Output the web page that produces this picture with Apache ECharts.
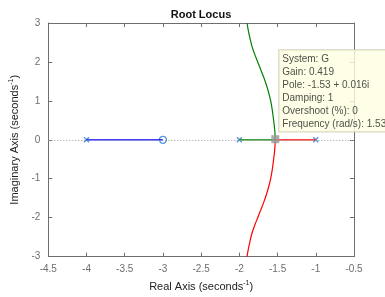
<!DOCTYPE html>
<html><head><meta charset="utf-8">
<script src="https://cdn.jsdelivr.net/npm/echarts@6/dist/echarts.min.js"></script>
<style>html,body{margin:0;padding:0;background:#fff}#c{width:385px;height:297px}</style>
</head><body><div id="c"></div>
<script>
// ---- data ----
const poles = [[-4, 0], [-2, 0], [-1, 0]];
const zeros = [[-3, 0]];
const blueBranch = [[-4, 0], [-3, 0]];
const greenReal = [[-2, 0], [-1.53, 0]];
const greenCurve = [[-1.53, 0], [-1.535, 0.2], [-1.545, 0.4], [-1.558, 0.6], [-1.572, 0.8], [-1.59, 1.0], [-1.615, 1.2], [-1.645, 1.4], [-1.68, 1.6], [-1.72, 1.8], [-1.76, 2.0], [-1.80, 2.2], [-1.835, 2.4], [-1.86, 2.6], [-1.882, 2.8], [-1.90, 3.0]];
const redReal = [[-1, 0], [-1.53, 0]];
const redCurve = [[-1.53, 0], [-1.535, -0.2], [-1.545, -0.4], [-1.558, -0.6], [-1.572, -0.8], [-1.59, -1.0], [-1.615, -1.2], [-1.645, -1.4], [-1.68, -1.6], [-1.72, -1.8], [-1.76, -2.0], [-1.80, -2.2], [-1.835, -2.4], [-1.86, -2.6], [-1.882, -2.8], [-1.90, -3.0]];
const dataTipPoint = [[-1.53, 0.016]];
const dataTipLines = ['System: G', 'Gain: 0.419', 'Pole: -1.53 + 0.016i', 'Damping: 1', 'Overshoot (%): 0', 'Frequency (rad/s): 1.53'];
const xRange = [-4.5, -0.5], xStep = 0.5;
const yRange = [-3, 3], yStep = 1;

const font = 'Liberation Sans, Arial, Helvetica, sans-serif';
const axisGray = '#6e6e6e';
const labelGray = '#6e6e6e';
const markerBlue = '#2b7bd8';

function axisCommon(show) {
  return {
    axisLine: { show: true, onZero: false, lineStyle: { color: axisGray, width: 1 } },
    axisTick: { show: true, inside: true, length: 4, lineStyle: { color: axisGray } },
    axisLabel: { show: show, color: labelGray, fontSize: 10, fontFamily: font },
    splitLine: { show: false }
  };
}
const sup = { fontSize: 7, fontFamily: font, color: '#222', padding: [0, 0, 7, 0] };
const nameStyle = { fontSize: 11, fontFamily: font, color: '#222', rich: { sup: sup } };

const chart = echarts.init(document.getElementById('c'), null, { renderer: 'canvas' });
chart.setOption({
  animation: false,
  title: { text: 'Root Locus', left: 196, textAlign: 'center', top: 4, textStyle: { fontSize: 11, fontWeight: 'bold', fontFamily: font, color: '#111' } },
  grid: { left: 37, right: 31, top: 23, bottom: 32, containLabel: false },
  xAxis: [
    Object.assign({ type: 'value', min: xRange[0], max: xRange[1], interval: xStep, position: 'bottom',
      name: 'Real Axis (seconds{sup|-1})', nameLocation: 'middle', nameGap: 19, nameTextStyle: nameStyle }, axisCommon(true)),
    Object.assign({ type: 'value', min: xRange[0], max: xRange[1], interval: xStep, position: 'top' }, axisCommon(false))
  ],
  yAxis: [
    Object.assign({ type: 'value', min: yRange[0], max: yRange[1], interval: yStep, position: 'left',
      name: 'Imaginary Axis (seconds{sup|-1})', nameLocation: 'middle', nameGap: 16, nameRotate: 90, nameTextStyle: nameStyle }, axisCommon(true)),
    Object.assign({ type: 'value', min: yRange[0], max: yRange[1], interval: yStep, position: 'right' }, axisCommon(false))
  ],
  series: [
    { type: 'line', data: [], silent: true,
      markLine: { silent: true, symbol: 'none', label: { show: false },
        lineStyle: { color: '#999', type: [1, 2], width: 1 }, data: [{ yAxis: 0 }] } },
    { type: 'line', data: blueBranch, showSymbol: false, lineStyle: { color: '#0000ff', width: 1.2 } },
    { type: 'line', data: greenReal, showSymbol: false, lineStyle: { color: '#008000', width: 1.2 } },
    { type: 'line', data: greenCurve, showSymbol: false, smooth: 0.3, lineStyle: { color: '#008000', width: 1.2 } },
    { type: 'line', data: redReal, showSymbol: false, lineStyle: { color: '#ff0000', width: 1.2 } },
    { type: 'line', data: redCurve, showSymbol: false, smooth: 0.3, lineStyle: { color: '#ff0000', width: 1.2 } },
    { type: 'scatter', data: poles, symbol: 'path://M0,0L10,10M10,0L0,10', symbolSize: 5,
      itemStyle: { color: 'rgba(0,0,0,0)', borderColor: markerBlue, borderWidth: 1.4 } },
    { type: 'scatter', data: zeros, symbol: 'circle', symbolSize: 7,
      itemStyle: { color: 'rgba(0,0,0,0)', borderColor: markerBlue, borderWidth: 1.3 } },
    { type: 'scatter', data: dataTipPoint, symbol: 'rect', symbolSize: 8, z: 5,
      itemStyle: { color: '#999999' },
      label: { show: true, position: [8, -85], align: 'left', verticalAlign: 'top',
        formatter: dataTipLines.join('\n'), fontSize: 10, fontFamily: font, color: '#222', lineHeight: 12.9,
        backgroundColor: '#ffffe1', borderColor: '#c8c8b0', borderWidth: 1, padding: [3, 6, 1, 3] } }
  ]
});
</script></body></html>
